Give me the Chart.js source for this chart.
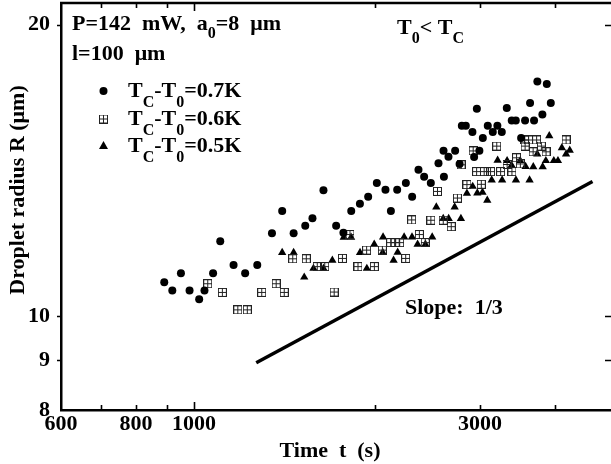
<!DOCTYPE html>
<html><head><meta charset="utf-8">
<script src="https://cdn.jsdelivr.net/npm/chart.js@4/dist/chart.umd.min.js"></script>
<style>html,body{margin:0;padding:0;background:#fff;overflow:hidden}#wrap{width:611px;height:464px}</style>
</head><body><div id="wrap"><canvas id="c" width="611" height="464"></canvas></div>
<script>
// ---- data ----
const t07 = [892,920,951,983,1020,1041,1076,1106,1164,1217,1275,1349,1403,1466,1533,1576,1644,1726,1775,1829,1891,1952,2018,2086,2130,2182,2256,2311,2368,2420,2483,2557,2607,2657,2611,2726,2773,2797,2840,2913,2932,2963,2992,3032,3090,3150,3206,3261,3324,3388,3441,3512,3566,3635,3691,3738,3811,3876,3936];
const r07 = [10.84,10.63,11.07,10.63,10.41,10.63,11.07,11.95,11.29,11.07,11.29,12.18,12.84,12.18,12.40,12.62,13.49,12.40,12.19,12.84,13.06,13.28,13.72,13.50,12.84,13.50,13.72,13.28,14.16,13.93,13.72,14.38,14.82,14.61,13.93,14.82,14.36,15.72,15.72,15.49,14.60,16.37,14.82,15.27,15.72,15.49,15.72,15.49,16.40,15.92,15.92,15.27,15.92,16.60,15.92,17.47,16.15,17.36,16.60];
const t06 = [1054,1115,1183,1227,1297,1371,1414,1461,1539,1605,1652,1713,1768,1820,1877,1940,1999,2061,2128,2165,2203,2254,2307,2376,2430,2483,2547,2604,2685,2750,2789,2852,2921,2960,3014,3047,3123,3198,3246,3328,3390,3451,3502,3559,3566,3614,3677,3727,3796,3865,4174];
const r06 = [10.80,10.58,10.15,10.15,10.58,10.80,10.58,11.46,11.46,11.25,11.25,10.59,11.47,12.14,11.25,11.70,11.25,11.70,11.91,11.91,11.91,11.47,12.57,12.14,11.91,12.56,13.45,12.56,12.37,13.24,14.33,13.67,14.81,14.10,13.68,14.10,14.10,14.98,14.10,14.34,14.10,14.57,14.36,15.20,14.98,15.20,14.78,15.20,14.98,14.78,15.20];
const t05 = [1403,1466,1527,1582,1644,1701,1777,1828,1892,1942,1998,2064,2067,2152,2186,2241,2310,2360,2432,2496,2536,2604,2659,2721,2787,2852,2916,2968,3028,3084,3137,3209,3265,3328,3386,3443,3500,3573,3628,3680,3737,3815,3862,3913,3982,4046,4107,4174,4233];
const r05 = [11.63,11.63,10.97,11.20,11.20,11.42,12.06,12.06,11.63,11.20,11.86,11.63,12.07,11.42,11.64,12.07,12.07,11.86,11.86,12.07,12.96,12.61,12.61,12.96,12.61,13.39,13.61,13.40,13.42,13.17,13.82,14.48,13.82,14.47,14.31,13.82,14.47,14.27,13.82,14.26,14.70,14.26,14.47,15.35,14.47,14.47,14.92,14.70,14.83];
const slopeT = [1270, 4620];
const slopeR = [8.95, 13.77];
const seriesLabels = ['TC-T0=0.7K','TC-T0=0.6K','TC-T0=0.5K'];
const xTickLabels = [600, 800, 1000, 3000];
const xTickMarks = [700, 800, 900, 1000, 2000, 3000, 4000];
const yTickLabels = [8, 9, 10, 20];

const FONT = '"Liberation Serif", "Times New Roman", serif';
const pts = (t, r) => t.map((v, i) => ({x: v, y: r[i]}));

function boxPlus(){
  const c = document.createElement('canvas'); c.width = 9; c.height = 9;
  const g = c.getContext('2d');
  g.strokeStyle = '#222'; g.lineWidth = 1;
  g.strokeRect(0.5, 0.5, 8, 8);
  g.beginPath(); g.moveTo(4.5, 0.5); g.lineTo(4.5, 8.5); g.moveTo(0.5, 4.5); g.lineTo(8.5, 4.5); g.stroke();
  return c;
}
const boxImg = boxPlus();

function rich(ctx, x, y, parts, size, subOff){
  let cx = x;
  parts.forEach(p => {
    const sub = p[1] === 1;
    const s = sub ? Math.round(size * 0.72) : size;
    ctx.font = 'bold ' + s + 'px ' + FONT;
    ctx.fillText(p[0], cx, sub ? y + subOff : y);
    cx += ctx.measureText(p[0]).width;
  });
}

const deco = {
  id: 'deco',
  afterDraw(chart){
    const {ctx, chartArea: a, scales: {x, y}} = chart;
    ctx.save();
    ctx.strokeStyle = '#000'; ctx.fillStyle = '#000';
    // top frame line
    ctx.lineWidth = 2.5;
    ctx.beginPath(); ctx.moveTo(a.left - 1, a.top); ctx.lineTo(a.right, a.top); ctx.stroke();
    // tick marks
    ctx.lineWidth = 1.6;
    xTickMarks.forEach(v => {
      const px = Math.round(x.getPixelForValue(v)) + 0.5;
      const len = v === 1000 ? 8 : 5;
      ctx.beginPath();
      ctx.moveTo(px, a.bottom); ctx.lineTo(px, a.bottom - len);
      ctx.moveTo(px, a.top); ctx.lineTo(px, a.top + len);
      ctx.stroke();
    });
    yTickLabels.filter(v => v !== 8).forEach(v => {
      const py = Math.round(y.getPixelForValue(v)) + 0.5;
      ctx.beginPath();
      ctx.moveTo(a.left - 4, py); ctx.lineTo(a.left, py);
      ctx.moveTo(a.right - 6, py); ctx.lineTo(a.right, py);
      ctx.stroke();
    });
    ctx.textBaseline = 'alphabetic'; ctx.textAlign = 'left';
    // annotations
    rich(ctx, 72, 30, [['P=142  mW,  a'], ['0', 1], ['=8  μm']], 22, 8);
    rich(ctx, 72, 60, [['l=100  μm']], 22, 8);
    rich(ctx, 397, 34, [['T'], ['0', 1], ['< T'], ['C', 1]], 22, 9);
    rich(ctx, 405, 314, [['Slope:  1/3']], 22, 8);
    // legend
    const rows = [97, 125, 152];
    rows.forEach((ry, i) => {
      const cy = ry - 6;
      if (i === 0){ ctx.beginPath(); ctx.arc(103.5, cy, 4, 0, Math.PI * 2); ctx.fill(); }
      if (i === 1){ ctx.drawImage(boxImg, 99, cy - 4.5); }
      if (i === 2){ ctx.beginPath(); ctx.moveTo(103.5, cy - 5); ctx.lineTo(108, cy + 3); ctx.lineTo(99, cy + 3); ctx.closePath(); ctx.fill(); }
      const lab = seriesLabels[i];
      rich(ctx, 128, ry, [['T'], ['C', 1], ['-T'], ['0', 1], [lab.slice(5)]], 22, 10);
    });
    // axis titles
    ctx.font = 'bold 22px ' + FONT;
    ctx.textAlign = 'center'; ctx.textBaseline = 'middle';
    ctx.fillText('Time  t  (s)', 330, 451);
    ctx.save();
    ctx.translate(18, 190); ctx.rotate(-Math.PI / 2);
    ctx.fillText('Droplet radius R (μm)', 0, 0);
    ctx.restore();
    ctx.restore();
  }
};

new Chart(document.getElementById('c'), {
  type: 'scatter',
  data: {
    datasets: [
      {type: 'line', label: 'Slope: 1/3', data: pts(slopeT, slopeR), borderColor: '#000', borderWidth: 3.5, pointRadius: 0, fill: false},
      {label: seriesLabels[0], data: pts(t07, r07), pointStyle: 'circle', pointRadius: 4, backgroundColor: '#000', borderColor: '#000', borderWidth: 0},
      {label: seriesLabels[1], data: pts(t06, r06), pointStyle: boxImg, pointRadius: 4.5},
      {label: seriesLabels[2], data: pts(t05, r05), pointStyle: 'triangle', pointRadius: 4.8, backgroundColor: '#000', borderColor: '#000', borderWidth: 0}
    ]
  },
  options: {
    responsive: false, animation: false, devicePixelRatio: 1,
    layout: {autoPadding: false, padding: {top: 3, right: 0, left: 0, bottom: 0}},
    plugins: {legend: {display: false}, tooltip: {enabled: false}},
    scales: {
      x: {
        type: 'logarithmic', min: 600, max: 4960,
        afterBuildTicks: s => { s.ticks = xTickLabels.map(v => ({value: v})); },
        afterFit: s => { s.height = 54; s.paddingLeft = 0; s.paddingRight = 0; },
        grid: {display: false, drawTicks: false},
        border: {display: true, color: '#000', width: 2.5},
        ticks: {padding: 1, color: '#000', font: {family: FONT, size: 22, weight: 'bold'}, maxRotation: 0, autoSkip: false, callback: v => String(v)}
      },
      y: {
        type: 'logarithmic', min: 8, max: 21.05,
        afterBuildTicks: s => { s.ticks = yTickLabels.map(v => ({value: v})); },
        afterFit: s => { s.width = 61; s.paddingTop = 0; s.paddingBottom = 0; },
        grid: {display: false, drawTicks: false},
        border: {display: true, color: '#000', width: 2.5},
        ticks: {padding: 11, color: '#000', font: {family: FONT, size: 22, weight: 'bold'}, autoSkip: false, callback: v => String(v)}
      }
    }
  },
  plugins: [deco]
});
</script></body></html>
